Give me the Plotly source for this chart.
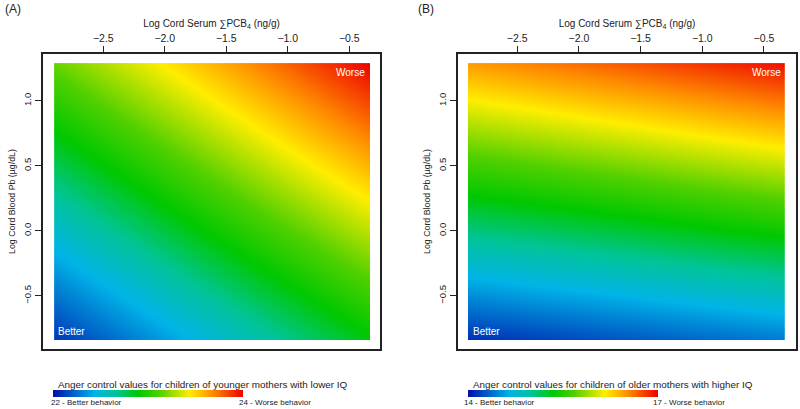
import plotly.graph_objects as go

# ---- data ----
pcb_x = [-2.9, -1.615, -0.33]          # Log cord serum sum PCB4 (ng/g)
pb_y = [-0.84, 0.225, 1.29]            # Log cord blood Pb (ug/dL)

# Panel A: anger control, younger mothers with lower IQ (scale 22-24)
anger_a = [
    [22.10, 22.49, 22.88],
    [22.63, 23.04, 23.44],
    [23.16, 23.58, 24.00],
]
# Panel B: anger control, older mothers with higher IQ (scale 14-17)
anger_b = [
    [14.13, 14.28, 14.43],
    [15.30, 15.48, 15.67],
    [16.46, 16.70, 16.95],
]
range_a = [22, 24]
range_b = [14, 17]
x_ticks = [-2.5, -2.0, -1.5, -1.0, -0.5]
y_ticks = [-0.5, 0.0, 0.5, 1.0]

cscale = [
    [0.0, "#0010a8"],
    [0.22, "#00b4e8"],
    [0.33, "#00c49a"],
    [0.45, "#00c800"],
    [0.56, "#50d000"],
    [0.72, "#ffee00"],
    [0.84, "#ff8c00"],
    [1.0, "#ee0000"],
]

W, H = 800, 409
def px(x):
    return x / W
def py(y):
    return 1 - y / H

fig = go.Figure()

def add_panel(z, zr, xa, ya, cb_x):
    fig.add_trace(go.Contour(
        x=pcb_x, y=pb_y, z=z, xaxis=xa, yaxis=ya,
        colorscale=cscale, zmin=zr[0], zmax=zr[1], zauto=False,
        contours=dict(coloring="heatmap", showlines=False),
        line=dict(width=0), ncontours=60,
        colorbar=dict(orientation="h", x=px(cb_x), xanchor="left",
                      y=py(397), yanchor="bottom", len=190, lenmode="pixels",
                      thickness=7, thicknessmode="pixels", outlinewidth=0,
                      xpad=0, ypad=0, showticklabels=False, ticks=""),
        hoverinfo="skip",
    ))

add_panel(anger_a, range_a, "x", "y", 53)
add_panel(anger_b, range_b, "x2", "y2", 468)

ydom = [py(349), py(54)]
fam = "Liberation Sans, Arial, sans-serif"
ink = "#222"
ax_common = dict(showgrid=False, zeroline=False, showline=True, linecolor=ink,
                 linewidth=1.6, mirror=True, ticks="outside", ticklen=6,
                 tickcolor=ink)
xtick_font = dict(size=10.5, family=fam, color=ink)
ytick_font = dict(size=9.5, family=fam, color=ink)
xtitle = dict(text="Log Cord Serum ∑PCB<sub>4</sub> (ng/g)",
              font=dict(size=10, family=fam, color=ink), standoff=3)
ytitle = dict(text="Log Cord Blood Pb (µg/dL)",
              font=dict(size=8.8, family=fam, color=ink), standoff=5)

fig.update_layout(
    width=W, height=H, margin=dict(l=0, r=0, t=0, b=0, autoexpand=False),
    paper_bgcolor="white", plot_bgcolor="white", showlegend=False,
    xaxis=dict(domain=[px(43), px(380)], range=[-2.99, -0.25], side="top", anchor="y",
               tickvals=x_ticks, tickformat=".1f", tickfont=xtick_font, title=xtitle, **ax_common),
    yaxis=dict(domain=ydom, range=[-0.91, 1.36], anchor="x", tickvals=y_ticks,
               tickformat=".1f", tickangle=-90, tickfont=ytick_font, title=ytitle, **ax_common),
    xaxis2=dict(domain=[px(458), px(796)], range=[-2.98, -0.24], side="top", anchor="y2",
                tickvals=x_ticks, tickformat=".1f", tickfont=xtick_font, title=xtitle, **ax_common),
    yaxis2=dict(domain=ydom, range=[-0.91, 1.36], anchor="x2", tickvals=y_ticks,
                tickformat=".1f", tickangle=-90, tickfont=ytick_font, title=ytitle, **ax_common),
)

ann = []
def txt(x, y, s, size, xanchor="left", color=ink):
    ann.append(dict(x=px(x), y=py(y), xref="paper", yref="paper", text=s, showarrow=False,
                    xanchor=xanchor, yanchor="middle",
                    font=dict(size=size, family=fam, color=color)))

txt(3, 9, "(A)", 12)
txt(416, 9, "(B)", 12)
txt(367, 72, "Worse", 10, "right", "white")
txt(56, 331, "Better", 10, "left", "white")
txt(783, 72, "Worse", 10, "right", "white")
txt(471, 331, "Better", 10, "left", "white")
txt(56, 384, "Anger control values for children of younger mothers with lower IQ", 9.9)
txt(471, 384, "Anger control values for children of older mothers with higher IQ", 9.9)
txt(49, 402, "22 - Better behavior", 8)
txt(237, 402, "24 - Worse behavior", 8)
txt(462, 402, "14 - Better behavior", 8)
txt(651, 402, "17 - Worse behavior", 8)
fig.update_layout(annotations=ann)

fig.write_html("out.html", config={"displayModeBar": False},
               post_script="document.body.style.margin='0';document.body.style.overflow='hidden';")
